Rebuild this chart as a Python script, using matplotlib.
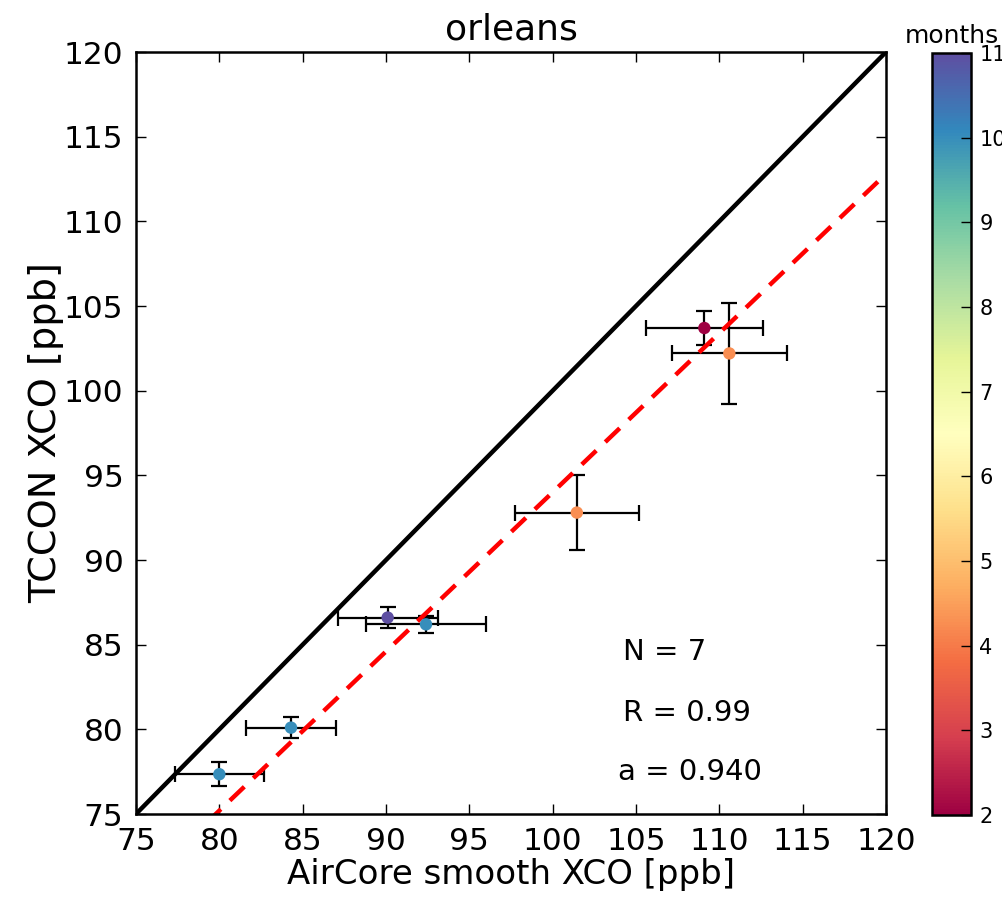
import numpy as np
import matplotlib
matplotlib.use("Agg")
import matplotlib.pyplot as plt
from matplotlib import cm, colors

# data
aircore = [80.0, 84.3, 90.1, 92.4, 101.45, 109.1, 110.6]
aircore_err = [2.65, 2.7, 3.0, 3.6, 3.7, 3.5, 3.45]
tccon = [77.35, 80.1, 86.6, 86.2, 92.8, 103.7, 102.2]
tccon_err = [0.7, 0.6, 0.6, 0.5, 2.2, 1.0, 3.0]
months = [10, 10, 11, 10, 4.25, 2, 4.25]
slope = 0.940
n_points = 7
r_value = 0.99
site = "orleans"
ticks = [75, 80, 85, 90, 95, 100, 105, 110, 115, 120]
cbar_ticks = [2, 3, 4, 5, 6, 7, 8, 9, 10, 11]

fig = plt.figure(figsize=(10.03, 9.09), dpi=100)
ax = fig.add_axes([136/1003, 1-814/909, 750/1003, 762/909])
cax = fig.add_axes([932/1003, 1-815/909, 39/1003, 762/909])

norm = colors.Normalize(vmin=2, vmax=11)
cmap = plt.get_cmap("Spectral")

ax.errorbar(aircore, tccon, xerr=aircore_err, yerr=tccon_err, fmt="none",
            ecolor="black", elinewidth=1.6, capsize=6, capthick=1.6, zorder=1)
lim = np.array([75, 120])
ax.plot(lim, lim, color="black", lw=3.2, zorder=2)
ax.plot(lim, slope*lim, color="red", lw=3.2, ls=(0, (4.5, 2.8)), zorder=2)
ax.scatter(aircore, tccon, c=months, cmap=cmap, norm=norm, s=80, zorder=3,
           edgecolors="none")

ax.set_xlim(75, 120)
ax.set_ylim(75, 120)
ax.set_xticks(ticks)
ax.set_yticks(ticks)
ax.tick_params(direction="in", length=7, width=1, labelsize=22.5, pad=9,
               top=True, right=True, colors="black")
for s in ax.spines.values():
    s.set_linewidth(1.8)
ax.set_xlabel("AirCore smooth XCO [ppb]", fontsize=24.5, labelpad=2)
ax.set_ylabel("TCCON XCO [ppb]", fontsize=27.5, labelpad=0)
ax.set_title(site, fontsize=26, pad=9)

ax.text(0.649, 0.2126, f"N = {n_points}", transform=ax.transAxes, fontsize=21, va="center")
ax.text(0.649, 0.1325, f"R = {r_value:.2f}", transform=ax.transAxes, fontsize=21, va="center")
ax.text(0.643, 0.055, f"a = {slope:.3f}", transform=ax.transAxes, fontsize=21, va="center")

sm = cm.ScalarMappable(norm=norm, cmap=cmap)
cb = fig.colorbar(sm, cax=cax, ticks=cbar_ticks)
cb.outline.set_linewidth(1.8)
cax.tick_params(direction="in", length=7, width=1, labelsize=15, pad=6)
cax.set_title("months", fontsize=18, pad=7)

fig.savefig("out.png", dpi=100)
